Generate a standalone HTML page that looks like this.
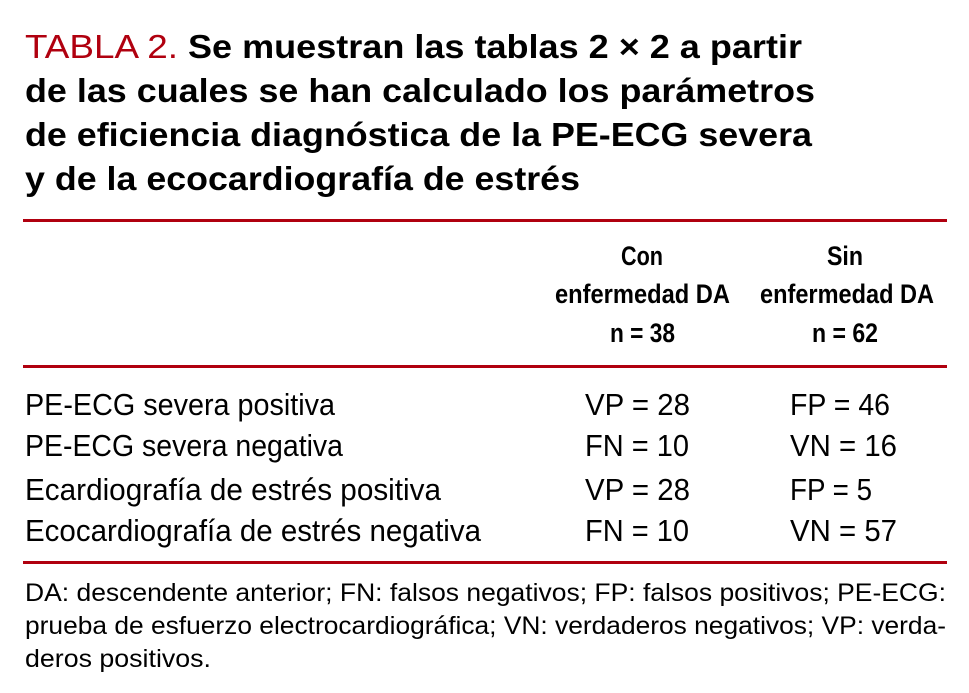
<!DOCTYPE html>
<html><head><meta charset="utf-8"><style>
html,body{margin:0;padding:0;background:#fff;}
svg{display:block;}
text{font-family:"Liberation Sans",sans-serif;fill:#000;}
.t{font-size:33px;font-weight:bold;}
.h{font-size:27px;font-weight:bold;}
.r{font-size:31px;}
.f{font-size:25px;}
</style></head><body>
<svg width="969" height="693" viewBox="0 0 969 693">
<text x="25" y="58" class="t" style="font-weight:normal;fill:#b0000f" textLength="153" lengthAdjust="spacingAndGlyphs">TABLA 2.</text>
<text x="188" y="58" class="t" textLength="614" lengthAdjust="spacingAndGlyphs">Se muestran las tablas 2 × 2 a partir</text>
<text x="25" y="102" class="t" textLength="790" lengthAdjust="spacingAndGlyphs">de las cuales se han calculado los parámetros</text>
<text x="25" y="146" class="t" textLength="787" lengthAdjust="spacingAndGlyphs">de eficiencia diagnóstica de la PE-ECG severa</text>
<text x="25" y="190" class="t" textLength="555" lengthAdjust="spacingAndGlyphs">y de la ecocardiografía de estrés</text>
<rect x="23" y="219" width="924" height="3" fill="#b0000f"/>
<text x="621" y="265" class="h" textLength="42" lengthAdjust="spacingAndGlyphs">Con</text>
<text x="555" y="303" class="h" textLength="175" lengthAdjust="spacingAndGlyphs">enfermedad DA</text>
<text x="610" y="342" class="h" textLength="65" lengthAdjust="spacingAndGlyphs">n = 38</text>
<text x="827" y="265" class="h" textLength="36" lengthAdjust="spacingAndGlyphs">Sin</text>
<text x="760" y="303" class="h" textLength="174" lengthAdjust="spacingAndGlyphs">enfermedad DA</text>
<text x="812" y="342" class="h" textLength="66" lengthAdjust="spacingAndGlyphs">n = 62</text>
<rect x="23" y="365" width="924" height="3" fill="#b0000f"/>
<text x="25" y="415" class="r" textLength="310" lengthAdjust="spacingAndGlyphs">PE-ECG severa positiva</text>
<text x="25" y="456" class="r" textLength="318" lengthAdjust="spacingAndGlyphs">PE-ECG severa negativa</text>
<text x="25" y="500" class="r" textLength="416" lengthAdjust="spacingAndGlyphs">Ecardiografía de estrés positiva</text>
<text x="25" y="541" class="r" textLength="456" lengthAdjust="spacingAndGlyphs">Ecocardiografía de estrés negativa</text>
<text x="585" y="415" class="r" textLength="105" lengthAdjust="spacingAndGlyphs">VP = 28</text>
<text x="585" y="456" class="r" textLength="104" lengthAdjust="spacingAndGlyphs">FN = 10</text>
<text x="585" y="500" class="r" textLength="105" lengthAdjust="spacingAndGlyphs">VP = 28</text>
<text x="585" y="541" class="r" textLength="104" lengthAdjust="spacingAndGlyphs">FN = 10</text>
<text x="790" y="415" class="r" textLength="100" lengthAdjust="spacingAndGlyphs">FP = 46</text>
<text x="790" y="456" class="r" textLength="107" lengthAdjust="spacingAndGlyphs">VN = 16</text>
<text x="790" y="500" class="r" textLength="82" lengthAdjust="spacingAndGlyphs">FP = 5</text>
<text x="790" y="541" class="r" textLength="107" lengthAdjust="spacingAndGlyphs">VN = 57</text>
<rect x="23" y="561" width="924" height="3" fill="#b0000f"/>
<text x="25" y="601" class="f" textLength="921" lengthAdjust="spacingAndGlyphs">DA: descendente anterior; FN: falsos negativos; FP: falsos positivos; PE-ECG:</text>
<text x="25" y="634" class="f" textLength="921" lengthAdjust="spacingAndGlyphs">prueba de esfuerzo electrocardiográfica; VN: verdaderos negativos; VP: verda-</text>
<text x="25" y="667" class="f" textLength="186" lengthAdjust="spacingAndGlyphs">deros positivos.</text>
</svg>
</body></html>
